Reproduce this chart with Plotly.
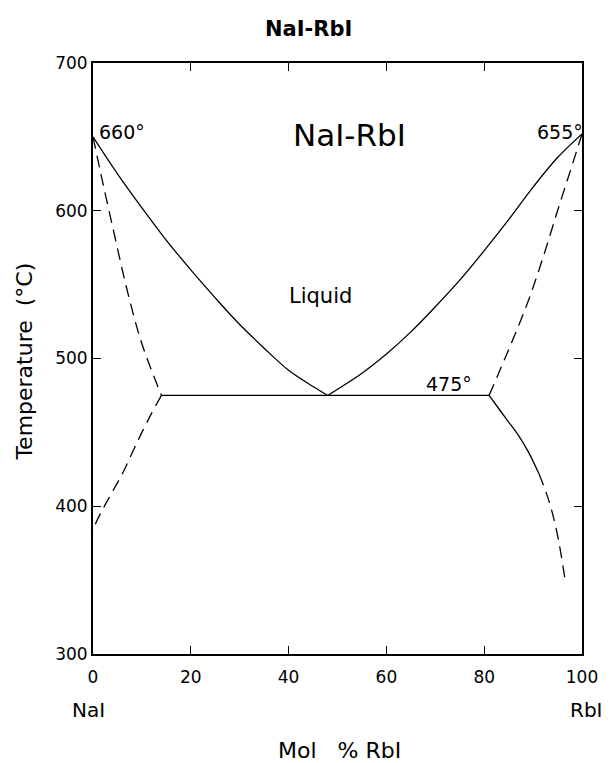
import plotly.graph_objects as go

# phase boundaries (mol % RbI, temperature in degC)
liq_left_x = [0, 5, 10, 15, 20, 25, 30, 35, 40, 45, 48]
liq_left_t = [650, 625, 602, 580, 560, 541, 523, 507, 492, 481, 475]

liq_right_x = [48, 55, 60, 65, 70, 75, 80, 85, 90, 95, 100]
liq_right_t = [475, 490, 503, 518, 535, 553, 573, 594, 616, 636, 652]

eut_x = [14, 81]
eut_t = [475, 475]

sol_left_x = [0, 2, 4.5, 7, 10, 14]
sol_left_t = [650, 619, 582, 546, 510, 475]

solv_left_x = [14, 12, 10, 8, 6, 4, 2, 0.5, 0]
solv_left_t = [475, 463, 450, 436, 422, 410, 398, 388, 383]

sol_right_x = [81, 85, 88.9, 92, 95, 98, 100]
sol_right_t = [475, 506, 538, 568, 600, 631, 652]

solv_right_x = [81, 83, 85, 87, 89, 91.2]
solv_right_t = [475, 466, 457, 448, 437, 422]

solv_right_dash_x = [91.2, 93.2, 94.9, 96.6]
solv_right_dash_t = [422, 404, 382, 349]

FONT = "DejaVu Sans"

fig = go.Figure()

def add_line(x, y, dash="solid"):
    fig.add_trace(go.Scatter(x=x, y=y, mode="lines", line_shape="spline",
                             line=dict(color="black", width=1.3, dash=dash),
                             hoverinfo="skip", showlegend=False))

add_line(liq_left_x, liq_left_t)
add_line(liq_right_x, liq_right_t)
add_line(eut_x, eut_t)
add_line(sol_left_x, sol_left_t, "12px,7px")
add_line(solv_left_x, solv_left_t, "12px,7px")
add_line(sol_right_x, sol_right_t, "12px,7px")
add_line(solv_right_x, solv_right_t)
add_line(solv_right_dash_x, solv_right_dash_t, "12px,7px")

labels = [
    (5.9, 653, "660°", 19),
    (95.5, 653, "655°", 19),
    (52.4, 651, "NaI-RbI", 31),
    (46.6, 542, "Liquid", 21),
    (72.7, 483, "475°", 19),
]
for x, y, txt, size in labels:
    fig.add_annotation(x=x, y=y, text=txt, showarrow=False,
                       font=dict(family=FONT, size=size, color="black"))

# texts placed against the plot area (paper coordinates)
paper_labels = [
    (-0.010, -0.095, "NaI", 20, 0),
    (1.010, -0.095, "RbI", 20, 0),
    (0.504, -0.164, "Mol   % RbI", 22, 0),
    (-0.140, 0.494, "Temperature  (°C)", 22, -90),
    (0.441, 1.0575, "<b>NaI-RbI</b>", 21, 0),
]
for x, y, txt, size, ang in paper_labels:
    fig.add_annotation(xref="paper", yref="paper", x=x, y=y, text=txt,
                       xanchor="center", yanchor="middle",
                       textangle=ang, showarrow=False,
                       font=dict(family=FONT, size=size, color="black"))

axis_style = dict(showgrid=False, zeroline=False, showline=True, linecolor="black",
                  linewidth=1.8, mirror="ticks", ticks="inside", ticklen=8,
                  tickcolor="black", tickwidth=1,
                  tickfont=dict(family=FONT, size=17, color="black"))

fig.update_xaxes(range=[0, 100], tickvals=[0, 20, 40, 60, 80, 100],
                 ticklabelstandoff=7, **axis_style)
fig.update_yaxes(range=[300, 700], tickvals=[300, 400, 500, 600, 700], **axis_style)

fig.update_layout(
    width=610, height=763,
    margin=dict(l=93, r=23, t=63, b=109),
    paper_bgcolor="white", plot_bgcolor="white",
)

# drop the default 8px body margin so the figure sits at the window's corner
fig.write_html("out.html", config={"displayModeBar": False},
               post_script="document.body.style.margin='0';")
